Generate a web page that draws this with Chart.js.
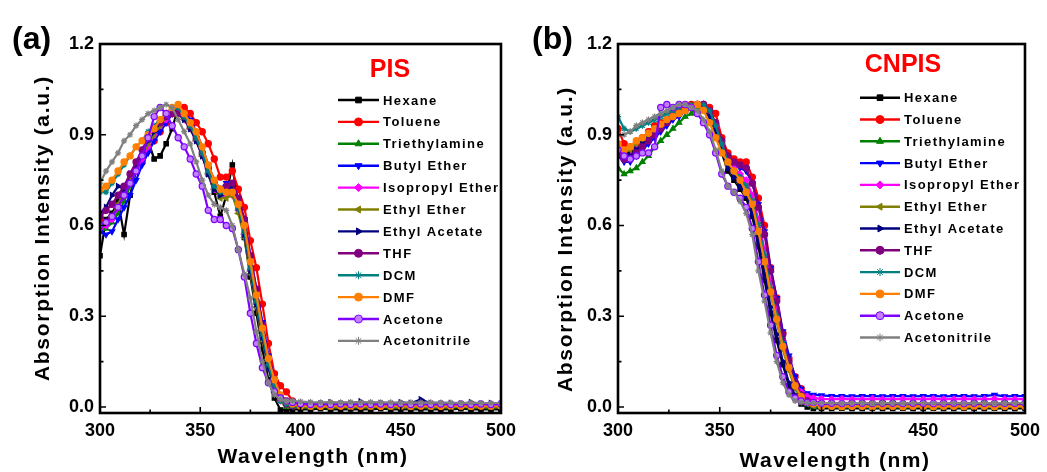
<!DOCTYPE html>
<html lang="en">
<head>
<meta charset="UTF-8">
<title>PIS / CNPIS absorption spectra</title>
<script src="https://cdn.jsdelivr.net/npm/chart.js"></script>
<style>
  html, body { margin: 0; padding: 0; background: #fff; }
  .wrap { position: relative; width: 1047px; height: 472px; }
  canvas { position: absolute; top: 0; }
  #chartA { left: 0; }
  #chartB { left: 523px; }
</style>
</head>
<body>
<div class="wrap">
  <canvas id="chartA" width="523" height="472"></canvas>
  <canvas id="chartB" width="524" height="472"></canvas>
</div>
<script>
// wavelength grid (nm)
var wavelength = [300,303,306,309,312,315,318,321,324,327,330,333,336,339,342,345,348,351,354,357,360,363,366,369,372,375,378,381,384,387,390,393,396,
                  400,405,410,415,420,425,430,435,440,445,450,455,460,465,470,475,480,485,490,495,500];

var solvents = ['Hexane','Toluene','Triethylamine','Butyl Ether','Isopropyl Ether','Ethyl Ether','Ethyl Acetate','THF','DCM','DMF','Acetone','Acetonitrile'];

var xTicks = [300, 350, 400, 450, 500];
var xMinor = [325, 375, 425, 475];
var yTicks = [0, 0.3, 0.6, 0.9, 1.2];
var yMinor = [0.15, 0.45, 0.75, 1.05];

// (a) PIS
var pisHexane = [0.50,0.62,0.64,0.68,0.57,0.70,0.78,0.83,0.88,0.82,0.83,0.87,0.92,0.99,0.96,0.93,0.89,0.84,0.77,0.71,0.63,0.70,0.80,0.66,0.56,0.43,0.31,0.19,0.09,0.03,-0.01,-0.01,-0.008,
  -0.008,-0.008,-0.006,-0.008,-0.008,-0.007,-0.008,-0.008,-0.006,-0.008,-0.008,-0.008,-0.007,-0.008,-0.008,-0.008,-0.006,-0.008,-0.008,-0.008,-0.008];
var pisToluene = [0.62,0.61,0.63,0.66,0.70,0.74,0.78,0.81,0.85,0.88,0.91,0.94,0.97,0.99,0.99,0.97,0.94,0.91,0.87,0.82,0.76,0.76,0.78,0.72,0.66,0.55,0.46,0.34,0.21,0.11,0.07,0.05,0.02,
  0.006,0.005,0.005,0.004,0.005,0.005,0.004,0.005,0.005,0.004,0.005,0.005,0.005,0.004,0.005,0.005,0.004,0.005,0.005,0.004,0.005];
var pisTriethylamine = [0.58,0.59,0.61,0.64,0.68,0.73,0.78,0.82,0.86,0.90,0.93,0.96,0.98,0.98,0.96,0.93,0.89,0.84,0.78,0.73,0.70,0.70,0.71,0.66,0.58,0.46,0.35,0.24,0.14,0.07,0.02,0.0,0.0,
  0.0,-0.002,0.0,-0.002,0.0,-0.002,0.0,-0.002,0.0,-0.002,0.0,-0.002,0.0,-0.002,0.0,-0.002,0.0,-0.002,0.0,-0.002,0.0];
var pisButylEther = [0.58,0.57,0.58,0.62,0.66,0.70,0.75,0.80,0.84,0.88,0.91,0.94,0.97,0.98,0.97,0.95,0.91,0.86,0.80,0.75,0.72,0.74,0.74,0.69,0.62,0.50,0.39,0.28,0.17,0.09,0.04,0.02,0.01,
  0.006,0.006,0.005,0.006,0.006,0.005,0.006,0.006,0.005,0.006,0.006,0.005,0.006,0.006,0.005,0.006,0.006,0.005,0.006,0.006,0.005];
var pisIsopropylEther = [0.59,0.60,0.62,0.66,0.70,0.74,0.78,0.82,0.86,0.90,0.93,0.95,0.97,0.97,0.95,0.92,0.88,0.83,0.77,0.72,0.70,0.70,0.70,0.65,0.57,0.45,0.34,0.23,0.13,0.06,0.02,0.01,0.005,
  0.005,0.004,0.005,0.005,0.004,0.005,0.005,0.004,0.005,0.005,0.004,0.005,0.005,0.004,0.005,0.005,0.004,0.005,0.005,0.004,0.005];
var pisEthylEther = [0.60,0.61,0.63,0.67,0.71,0.75,0.79,0.83,0.87,0.90,0.93,0.96,0.97,0.97,0.95,0.92,0.88,0.83,0.77,0.72,0.69,0.69,0.70,0.64,0.56,0.44,0.33,0.22,0.13,0.06,0.02,0.005,0.002,
  0.002,0.002,0.001,0.002,0.002,0.001,0.002,0.002,0.001,0.002,0.002,0.001,0.002,0.002,0.001,0.002,0.002,0.001,0.002,0.002,0.002];
var pisEthylAcetate = [0.64,0.66,0.70,0.73,0.72,0.77,0.80,0.84,0.88,0.91,0.94,0.96,0.97,0.97,0.95,0.92,0.88,0.83,0.77,0.72,0.70,0.72,0.73,0.66,0.57,0.45,0.34,0.23,0.13,0.06,0.03,0.02,0.012,
  0.01,0.012,0.01,0.015,0.01,0.012,0.018,0.01,0.012,0.01,0.015,0.012,0.025,0.012,0.01,0.012,0.01,0.015,0.01,0.012,0.01];
var pisTHF = [0.63,0.65,0.67,0.70,0.73,0.77,0.81,0.85,0.89,0.92,0.94,0.96,0.97,0.97,0.96,0.93,0.89,0.84,0.79,0.74,0.72,0.73,0.74,0.69,0.62,0.50,0.39,0.27,0.16,0.08,0.03,0.01,0.005,
  0.005,0.005,0.004,0.005,0.005,0.004,0.005,0.005,0.004,0.005,0.005,0.004,0.005,0.005,0.004,0.005,0.005,0.004,0.005,0.005,0.005];
var pisDCM = [0.71,0.71,0.74,0.77,0.80,0.83,0.86,0.88,0.91,0.93,0.95,0.97,0.99,0.99,0.96,0.93,0.89,0.84,0.78,0.73,0.71,0.71,0.71,0.66,0.58,0.46,0.35,0.24,0.14,0.07,0.02,0.01,0.005,
  0.005,0.005,0.006,0.005,0.005,0.006,0.005,0.005,0.006,0.005,0.005,0.006,0.005,0.005,0.006,0.005,0.005,0.006,0.005,0.005,0.005];
var pisDMF = [0.72,0.73,0.75,0.78,0.81,0.83,0.86,0.88,0.90,0.92,0.95,0.97,0.99,1.00,0.97,0.94,0.91,0.86,0.80,0.75,0.72,0.71,0.71,0.67,0.60,0.48,0.37,0.26,0.16,0.09,0.04,0.02,0.01,
  0.003,0.003,0.002,0.003,0.003,0.002,0.003,0.003,0.002,0.003,0.003,0.002,0.003,0.003,0.002,0.003,0.003,0.002,0.003,0.003,0.003];
var pisAcetone = [0.60,0.61,0.63,0.66,0.70,0.74,0.78,0.83,0.89,0.96,0.99,0.97,0.93,0.89,0.86,0.82,0.77,0.73,0.65,0.62,0.62,0.60,0.59,0.52,0.43,0.31,0.21,0.13,0.08,0.05,0.03,0.02,0.015,
  0.01,0.008,0.01,0.008,0.01,0.008,0.01,0.008,0.01,0.008,0.01,0.008,0.01,0.008,0.01,0.008,0.01,0.008,0.01,0.008,0.01];
var pisAcetonitrile = [0.74,0.78,0.81,0.84,0.88,0.90,0.93,0.95,0.97,0.98,0.99,1.00,0.99,0.95,0.91,0.87,0.81,0.75,0.70,0.67,0.66,0.65,0.60,0.52,0.44,0.36,0.25,0.15,0.08,0.04,0.025,0.02,0.02,
  0.018,0.016,0.015,0.016,0.015,0.016,0.015,0.016,0.015,0.015,0.014,0.015,0.014,0.015,0.014,0.014,0.013,0.014,0.013,0.013,0.013];

// (b) CNPIS
var cnpisHexane = [0.86,0.84,0.84,0.85,0.87,0.89,0.91,0.93,0.95,0.96,0.97,0.98,0.99,1.00,0.99,0.96,0.91,0.84,0.78,0.75,0.72,0.69,0.63,0.53,0.42,0.31,0.22,0.14,0.07,0.03,0.01,0.0,-0.005,
  -0.005,-0.005,-0.004,-0.005,-0.005,-0.004,-0.005,-0.005,-0.004,-0.005,-0.005,-0.004,-0.005,-0.005,-0.004,-0.005,-0.005,-0.004,-0.005,-0.005,-0.005];
var cnpisToluene = [0.92,0.87,0.86,0.87,0.89,0.91,0.93,0.94,0.95,0.97,0.98,0.99,1.00,1.00,1.00,0.99,0.97,0.89,0.84,0.82,0.81,0.81,0.76,0.69,0.60,0.46,0.36,0.245,0.16,0.10,0.06,0.035,0.02,
  0.012,0.01,0.01,0.012,0.01,0.01,0.012,0.01,0.01,0.012,0.01,0.01,0.012,0.01,0.01,0.012,0.01,0.01,0.012,0.01,0.01];
var cnpisTriethylamine = [0.79,0.77,0.78,0.79,0.81,0.83,0.86,0.88,0.90,0.92,0.94,0.96,0.97,0.99,1.00,0.97,0.92,0.86,0.81,0.79,0.77,0.74,0.69,0.61,0.50,0.39,0.30,0.21,0.13,0.07,0.03,0.01,0.0,
  0.0,0.0,-0.002,0.0,0.0,-0.002,0.0,0.0,-0.002,0.0,0.0,-0.002,0.0,0.0,-0.002,0.0,0.0,-0.002,0.0,0.0,0.0];
var cnpisButylEther = [0.83,0.81,0.81,0.83,0.85,0.87,0.89,0.91,0.93,0.95,0.96,0.98,0.99,1.00,0.99,0.97,0.93,0.87,0.82,0.80,0.79,0.78,0.74,0.67,0.58,0.46,0.36,0.25,0.17,0.10,0.06,0.045,0.04,
  0.038,0.036,0.036,0.035,0.036,0.036,0.035,0.036,0.036,0.035,0.036,0.036,0.035,0.036,0.036,0.035,0.036,0.04,0.035,0.036,0.036];
var cnpisIsopropylEther = [0.84,0.82,0.83,0.85,0.87,0.89,0.91,0.93,0.95,0.96,0.97,0.98,0.99,1.00,1.00,0.98,0.93,0.87,0.82,0.79,0.77,0.75,0.70,0.62,0.52,0.41,0.32,0.22,0.14,0.08,0.05,0.035,0.03,
  0.027,0.026,0.027,0.026,0.026,0.027,0.026,0.026,0.027,0.026,0.026,0.027,0.026,0.026,0.027,0.026,0.026,0.027,0.026,0.026,0.026];
var cnpisEthylEther = [0.86,0.84,0.85,0.87,0.88,0.90,0.92,0.93,0.95,0.96,0.97,0.98,0.99,1.00,0.99,0.96,0.91,0.85,0.80,0.77,0.74,0.71,0.66,0.57,0.47,0.37,0.28,0.19,0.12,0.06,0.03,0.01,0.005,
  0.004,0.004,0.005,0.004,0.004,0.005,0.004,0.004,0.005,0.004,0.004,0.005,0.004,0.004,0.005,0.004,0.004,0.005,0.004,0.004,0.004];
var cnpisEthylAcetate = [0.85,0.83,0.83,0.85,0.87,0.89,0.91,0.93,0.95,0.96,0.97,0.98,0.99,1.00,0.99,0.96,0.91,0.85,0.79,0.76,0.73,0.70,0.64,0.55,0.44,0.33,0.24,0.15,0.08,0.04,0.02,0.01,0.005,
  0.003,0.003,0.002,0.003,0.003,0.002,0.003,0.003,0.002,0.003,0.003,0.002,0.003,0.003,0.002,0.003,0.003,0.002,0.003,0.003,0.003];
var cnpisTHF = [0.84,0.82,0.82,0.84,0.86,0.88,0.90,0.92,0.94,0.96,0.97,0.98,0.99,1.00,1.00,0.98,0.94,0.88,0.83,0.81,0.80,0.79,0.74,0.66,0.57,0.45,0.35,0.24,0.15,0.08,0.04,0.02,0.01,
  0.006,0.005,0.006,0.005,0.006,0.005,0.006,0.005,0.006,0.005,0.006,0.005,0.006,0.005,0.006,0.005,0.006,0.005,0.006,0.005,0.005];
var cnpisDCM = [0.96,0.92,0.91,0.92,0.93,0.94,0.95,0.96,0.97,0.98,0.99,1.00,1.00,1.00,1.00,0.98,0.93,0.87,0.81,0.78,0.76,0.73,0.68,0.60,0.50,0.39,0.30,0.21,0.13,0.07,0.03,0.01,0.005,
  0.004,0.004,0.005,0.004,0.004,0.005,0.004,0.004,0.005,0.004,0.004,0.005,0.004,0.004,0.005,0.004,0.004,0.005,0.004,0.004,0.004];
var cnpisDMF = [0.87,0.85,0.86,0.88,0.89,0.905,0.92,0.935,0.95,0.96,0.97,0.98,0.99,1.00,0.98,0.94,0.89,0.84,0.81,0.78,0.75,0.71,0.67,0.58,0.48,0.38,0.29,0.20,0.13,0.07,0.035,0.015,0.01,
  0.002,0.002,0.001,0.002,0.002,0.001,0.002,0.002,0.001,0.002,0.002,0.001,0.002,0.002,0.001,0.002,0.002,0.001,0.002,0.002,0.002];
var cnpisAcetone = [0.85,0.83,0.82,0.83,0.84,0.84,0.86,0.99,1.00,0.99,1.00,1.00,0.99,0.97,0.94,0.90,0.84,0.77,0.73,0.71,0.69,0.66,0.59,0.48,0.37,0.27,0.17,0.10,0.05,0.03,0.02,0.015,0.015,
  0.012,0.012,0.011,0.012,0.012,0.011,0.012,0.012,0.011,0.012,0.012,0.011,0.012,0.012,0.011,0.012,0.012,0.011,0.012,0.012,0.012];
var cnpisAcetonitrile = [0.90,0.90,0.91,0.93,0.94,0.95,0.96,0.97,0.98,0.99,1.00,1.00,0.99,0.98,0.95,0.91,0.85,0.78,0.73,0.71,0.68,0.64,0.57,0.45,0.35,0.245,0.15,0.08,0.04,0.02,0.015,0.013,0.013,
  0.013,0.013,0.012,0.013,0.013,0.012,0.013,0.013,0.012,0.013,0.013,0.012,0.013,0.013,0.012,0.013,0.013,0.012,0.013,0.013,0.013];

var pisSeries = [pisHexane, pisToluene, pisTriethylamine, pisButylEther, pisIsopropylEther, pisEthylEther,
                 pisEthylAcetate, pisTHF, pisDCM, pisDMF, pisAcetone, pisAcetonitrile];
var cnpisSeries = [cnpisHexane, cnpisToluene, cnpisTriethylamine, cnpisButylEther, cnpisIsopropylEther, cnpisEthylEther,
                   cnpisEthylAcetate, cnpisTHF, cnpisDCM, cnpisDMF, cnpisAcetone, cnpisAcetonitrile];

var colors = ['#000000','#ff0000','#008000','#0000ff','#ff00ff','#808000','#000080','#800080','#008080','#ff8000','#8000ff','#808080'];
var fills = ['#000000','#ff0000','#008000','#0000ff','#ff00ff','#808000','#000080','#800080','#008080','#ff8000','#c080ff','#808080'];
var markers = ['rect','circle','triangle','triangle','rectRot','triangle','triangle','circle','star','circle','circle','star'];
var rotations = [0, 0, 0, 180, 0, -90, 90, 0, 0, 0, 0, 0];

var FONT = '"Liberation Sans", Arial, sans-serif';

function makeSets(series) {
    return solvents.map(function (name, i) {
        return {
            label: name,
            data: series[i].map(function (v, k) { return { x: wavelength[k], y: v }; }),
            borderColor: colors[i],
            backgroundColor: colors[i],
            pointBackgroundColor: fills[i],
            pointBorderColor: colors[i],
            pointStyle: markers[i],
            rotation: rotations[i],
            pointRadius: 3.1,
            pointBorderWidth: 1.2,
            borderWidth: 2.2,
            order: solvents.length - i
        };
    });
}

// frame, inward ticks, titles and legend
var decor = {
    id: 'decor',
    afterDraw: function (chart, args, o) {
        var ctx = chart.ctx, a = chart.chartArea, xs = chart.scales.x, ys = chart.scales.y;
        ctx.save();
        ctx.strokeStyle = '#000';
        ctx.lineWidth = 1.6;
        ctx.beginPath();
        yTicks.forEach(function (v) { var p = ys.getPixelForValue(v); ctx.moveTo(a.left, p); ctx.lineTo(a.left + 6, p); });
        yMinor.forEach(function (v) { var p = ys.getPixelForValue(v); ctx.moveTo(a.left, p); ctx.lineTo(a.left + 3.5, p); });
        xTicks.forEach(function (v) { var p = xs.getPixelForValue(v); ctx.moveTo(p, a.bottom); ctx.lineTo(p, a.bottom - 6); });
        xMinor.forEach(function (v) { var p = xs.getPixelForValue(v); ctx.moveTo(p, a.bottom); ctx.lineTo(p, a.bottom - 3.5); });
        ctx.stroke();
        ctx.lineWidth = 2.6;
        ctx.strokeRect(a.left, a.top, a.right - a.left, a.bottom - a.top);

        ctx.fillStyle = '#000';
        ctx.textBaseline = 'alphabetic';
        ctx.textAlign = 'left';
        ctx.font = 'bold 32px ' + FONT;
        ctx.fillText(o.letter, o.letterX, 49);

        ctx.fillStyle = '#ff0000';
        ctx.textAlign = 'center';
        ctx.font = 'bold 25px ' + FONT;
        ctx.fillText(o.name, o.nameX, o.nameY);

        ctx.fillStyle = '#000';
        ctx.font = 'bold 21px ' + FONT;
        ctx.letterSpacing = '1.5px';
        ctx.fillText('Wavelength (nm)', o.xTitleX, o.xTitleY);
        ctx.save();
        ctx.translate(43, o.yTitleY);
        ctx.rotate(-Math.PI / 2);
        ctx.textBaseline = 'middle';
        ctx.letterSpacing = '1.7px';
        ctx.fillText('Absorption Intensity (a.u.)', 0, 0);
        ctx.restore();

        // legend
        ctx.font = 'bold 13px ' + FONT;
        ctx.letterSpacing = '1.4px';
        ctx.textAlign = 'left';
        ctx.textBaseline = 'middle';
        solvents.forEach(function (name, i) {
            var y = o.legY + i * o.legStep;
            ctx.strokeStyle = colors[i];
            ctx.lineWidth = 2.4;
            ctx.beginPath();
            ctx.moveTo(o.legX1, y);
            ctx.lineTo(o.legX2, y);
            ctx.stroke();
            ctx.fillStyle = fills[i];
            ctx.lineWidth = 1;
            Chart.helpers.drawPoint(ctx, { pointStyle: markers[i], rotation: rotations[i], radius: 4, borderWidth: 1 },
                (o.legX1 + o.legX2) / 2, y);
            ctx.fillStyle = '#000';
            ctx.fillText(name, o.legX2 + 4, y + 1);
        });
        ctx.restore();
    }
};

function buildChart(id, series, yWidth, padRight, deco) {
    var ctx = document.getElementById(id).getContext('2d');
    return new Chart(ctx, {
        type: 'line',
        data: { datasets: makeSets(series) },
        options: {
            responsive: false,
            animation: false,
            layout: { padding: { top: 44, right: padRight, left: 0, bottom: 0 } },
            scales: {
                x: {
                    type: 'linear',
                    min: 300,
                    max: 500,
                    grid: { display: false, drawTicks: false },
                    border: { display: false },
                    afterBuildTicks: function (s) { s.ticks = xTicks.map(function (v) { return { value: v }; }); },
                    afterFit: function (s) { s.height = 59; },
                    ticks: { color: '#000', padding: 7, maxRotation: 0, font: { family: FONT, size: 18, weight: 'bold' } }
                },
                y: {
                    min: -0.02,
                    max: 1.2,
                    grid: { display: false, drawTicks: false },
                    border: { display: false },
                    afterBuildTicks: function (s) { s.ticks = yTicks.map(function (v) { return { value: v }; }); },
                    afterFit: function (s) { s.width = yWidth; },
                    ticks: {
                        color: '#000',
                        padding: 6,
                        font: { family: FONT, size: 18, weight: 'bold' },
                        callback: function (v) { return Number(v).toFixed(1); }
                    }
                }
            },
            plugins: {
                legend: { display: false },
                tooltip: { enabled: false },
                decor: deco
            }
        },
        plugins: [decor]
    });
}

buildChart('chartA', pisSeries, 100, 15, {
    letter: '(a)', letterX: 12, name: 'PIS', nameX: 390, nameY: 77,
    xTitleX: 313, xTitleY: 463, yTitleY: 228,
    legX1: 338, legX2: 379, legY: 100, legStep: 21.9
});
buildChart('chartB', cnpisSeries, 95, 21, {
    letter: '(b)', letterX: 9, name: 'CNPIS', nameX: 380, nameY: 72,
    xTitleX: 312, xTitleY: 467, yTitleY: 239,
    legX1: 337, legX2: 377, legY: 97.7, legStep: 21.8
});
</script>
</body>
</html>
